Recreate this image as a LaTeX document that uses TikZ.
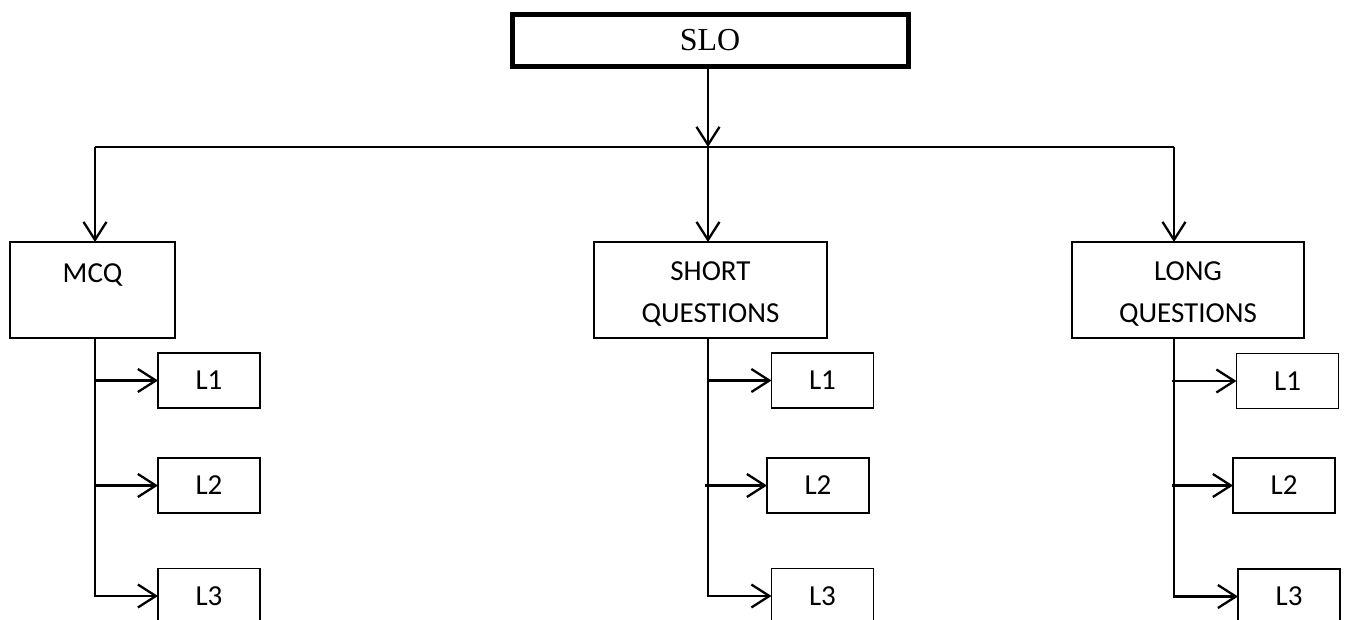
\documentclass[tikz,border=0pt]{standalone}
\usepackage{fontspec}
\setmainfont{Liberation Serif}
\newfontfamily\calfont{Carlito}
\usetikzlibrary{arrows.meta}
\begin{document}
\begin{tikzpicture}[x=1pt,y=-1pt,
  box/.style={draw, line width=1.3pt, inner sep=0pt, outer sep=0pt},
  lbox/.style={box, minimum width=102pt, minimum height=55pt, font=\calfont\fontsize{29}{35}\selectfont},
  bigbox/.style={box, minimum height=96pt},
  lbl/.style={font=\calfont\fontsize{29}{35}\selectfont, anchor=base, inner sep=0pt},
  link/.style={line width=2.3pt},
  conn/.style={line width=2.3pt, -{Straight Barb[length=18pt,width=23pt,line width=2.3pt]}}]
\useasboundingbox (0,0) rectangle (1346,619);

% top box
\node[draw, line width=5pt, minimum width=396pt, minimum height=52pt, inner sep=0pt,
      font=\fontsize{32}{38}\selectfont] (slo) at (710,40) {SLO};

% second level boxes
\node[bigbox, minimum width=165pt] (mcq) at (92.5,290) {};
\node[bigbox, minimum width=233pt] (short) at (710.5,290) {};
\node[bigbox, minimum width=232pt] (long) at (1188,290) {};

\node[lbl] (mcqt) at (92.5,282) {MCQ};
\node[lbl] (shortt1) at (710.5,280) {SHORT};
\node[lbl] (shortt2) at (710.5,322) {QUESTIONS};
\node[lbl] (longt1) at (1188,280) {LONG};
\node[lbl] (longt2) at (1188,322) {QUESTIONS};

% level boxes
\node[lbox] (m1) at (209,380.5) {L1};
\node[lbox] (m2) at (209,485.5) {L2};
\node[lbox] (m3) at (209,596) {L3};
\node[lbox] (s1) at (822.5,380.5) {L1};
\node[lbox] (s2) at (818,485.5) {L2};
\node[lbox] (s3) at (822.5,596) {L3};
\node[lbox] (g1) at (1287.5,381) {L1};
\node[lbox] (g2) at (1284,485.5) {L2};
\node[lbox] (g3) at (1289,596.5) {L3};

% junction coordinates
\coordinate (hl) at (95,147);
\coordinate (hm) at (708,147);
\coordinate (hr) at (1174,147);

\draw[conn] (slo.south -| hm) -- (hm);
\draw[link] (hl) -- (hr);
\draw[conn] (hl) -- (hl |- mcq.north);
\draw[conn] (hm) -- (hm |- short.north);
\draw[conn] (hr) -- (hr |- long.north);

% MCQ branch
\draw[conn] (mcq.south -| hl) -- (hl |- m3.west) -- (m3.west);
\draw[conn] (hl |- m1.west) -- (m1.west);
\draw[conn] (hl |- m2.west) -- (m2.west);

% SHORT branch
\draw[conn] (short.south -| hm) -- (hm |- s3.west) -- (s3.west);
\draw[conn] (hm |- s1.west) -- (s1.west);
\draw[conn] ([xshift=-3pt]hm |- s2.west) -- (s2.west);

% LONG branch
\draw[conn] (long.south -| hr) -- (hr |- g3.west) -- (g3.west);
\draw[conn] ([xshift=-2pt]hr |- g1.west) -- (g1.west);
\draw[conn] ([xshift=-2pt]hr |- g2.west) -- (g2.west);
\end{tikzpicture}
\end{document}
